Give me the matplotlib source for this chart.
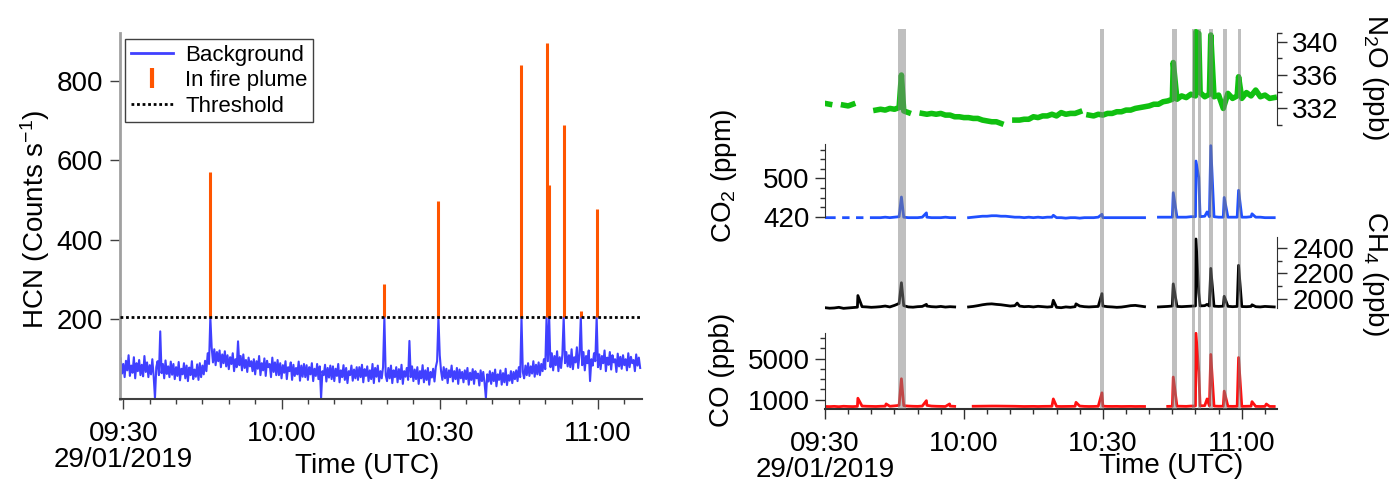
import numpy as np
import matplotlib.pyplot as plt
from matplotlib.lines import Line2D
from matplotlib.ticker import FixedLocator, MultipleLocator

plt.rcParams['font.family'] = ['Liberation Sans', 'DejaVu Sans']
plt.rcParams['mathtext.fontset'] = 'custom'
plt.rcParams['mathtext.rm'] = 'Liberation Sans'
plt.rcParams['mathtext.it'] = 'Liberation Sans:italic'
plt.rcParams['font.size'] = 20

# ---------------- data (time in minutes after 09:30 UTC) ----------------
# HCN background, 15 s steps starting at 09:29:30 (one row = 5 min)
hcn_bg = [102, 64, 88, 55, 96, 72, 110, 58, 84, 66, 105, 52, 90, 70, 98, 60, 86, 57, 108, 68,
          92, 55, 85, 62, 100, 58, 2, 80, 95, 60, 170, 65, 88, 52, 97, 63, 82, 55, 94, 61,
          88, 50, 80, 58, 93, 47, 76, 62, 90, 52, 84, 45, 79, 60, 95, 50, 74, 56, 87, 48,
          90, 55, 84, 62, 96, 70, 115, 88, 206, 130, 92, 125, 85, 118, 95, 122, 80, 112, 90, 120,
          82, 110, 75, 105, 88, 115, 70, 100, 80, 145, 85, 108, 72, 112, 78, 98, 68, 104, 82, 95,
          70, 100, 62, 95, 76, 108, 60, 90, 72, 102, 58, 96, 80, 88, 55, 104, 68, 92, 60, 98,
          60, 90, 52, 85, 66, 95, 50, 80, 70, 92, 48, 86, 58, 78, 62, 94, 46, 84, 56, 88,
          55, 85, 48, 80, 62, 90, 45, 76, 58, 88, 50, 82, 2, 70, 60, 86, 44, 78, 54, 84,
          50, 82, 45, 76, 58, 88, 42, 72, 55, 85, 48, 78, 40, 70, 60, 84, 46, 74, 52, 80,
          48, 80, 55, 86, 42, 75, 58, 82, 45, 72, 50, 88, 40, 78, 56, 84, 44, 70, 52, 80,
          206, 60, 45, 78, 52, 84, 40, 72, 55, 80, 42, 75, 50, 86, 38, 70, 56, 78, 48, 146,
          55, 82, 45, 74, 50, 80, 38, 70, 52, 85, 42, 72, 48, 78, 36, 68, 54, 76, 44, 80,
          95, 206, 110, 70, 48, 80, 52, 76, 40, 72, 55, 84, 44, 70, 50, 78, 38, 74, 52, 68,
          42, 72, 50, 78, 36, 66, 48, 75, 38, 70, 52, 64, 34, 72, 45, 68, 40, 2, 62, 44,
          70, 38, 66, 45, 74, 32, 62, 48, 72, 36, 65, 42, 76, 35, 60, 46, 70, 40, 68, 50,
          72, 45, 80, 55, 206, 68, 52, 84, 60, 90, 58, 82, 64, 95, 56, 86, 62, 92, 60, 88,
          70, 100, 75, 206, 95, 206, 80, 115, 72, 108, 85, 120, 70, 105, 78, 112, 206, 90, 118, 82,
          110, 80, 125, 75, 105, 92, 130, 78, 112, 206, 85, 118, 72, 108, 90, 122, 45, 100, 84, 115,
          95, 206, 80, 112, 75, 108, 90, 122, 70, 104, 86, 118, 74, 110, 92, 100, 68, 114, 82, 106,
          76, 110, 85, 100, 72, 115, 80, 106, 90, 98, 70, 112, 84, 104, 78]
hcn_t0 = -0.5
hcn_dt = 0.25

plume_t = [16.5, 49.5, 59.75, 75.5, 80.25, 80.75, 83.5, 86.75, 89.75]
plume_peak = [571, 290, 497, 840, 894, 537, 688, 220, 478]
threshold = 206

# right panel: 1-min values from 09:30 plus spikes
nan = np.nan
n2o = [332.6, 332.5, nan, nan, 332.4, 332.3, 332.5, nan, nan, nan,
       nan, 331.8, 331.9, 331.8, 332.0, 331.9, 332.1, 331.7, 331.5, nan,
       nan, 331.4, 331.3, 331.4, 331.3, 331.4, 331.2, 331.2, 331.0, 331.0,
       330.9, 330.9, 330.8, 330.8, 330.6, 330.5, 330.4, 330.4, 330.2, nan,
       nan, 330.6, 330.6, 330.7, 330.7, 331.0, 330.9, 331.1, 331.1, 331.3,
       331.1, 331.5, 331.3, 331.4, 331.4, 331.6, nan, 331.2, 331.1, 331.3,
       331.2, 331.4, 331.4, 331.6, 331.6, 331.8, 331.8, 332.0, 332.1, 332.2,
       332.3, 332.5, 332.5, 332.8, 332.9, 333.1, 333.1, 333.5, 333.3, 333.7,
       333.5, 333.9, 333.4, 333.7, 333.4, 333.6, 332.0, 333.8, 333.2, 333.5,
       333.2, 333.9, 333.5, 334.2, 333.4, 333.6, 333.2, 333.3]
n2o_spk_t = [16.5, 75.2, 80.1, 80.7, 83.3, 89.3]
n2o_spk_v = [336.0, 337.5, 341.2, 341.0, 340.8, 335.8]

co2 = [418, 418, 418, nan, 418, 418, nan, 418, 418, nan,
       418, 418, 418, 419, 418, 419, 420, 419, 418, 418,
       418, 419, 419, 418, 418, 418, 419, 418, 418, nan,
       nan, 418, 419, 420, 421, 421, 422, 422, 421, 421,
       420, 419, 419, 418, 419, 418, 419, 418, 419, 419,
       418, 418, 417, 418, 418, 417, 418, 418, 418, 419,
       418, 418, 418, 418, 418, 418, 418, 418, 418, 418,
       nan, nan, 419, 419, 419, 419, 419, 419, 419, 420,
       420, 420, 421, 420, 420, 419, 419, 419, 419, 419,
       419, 419, 420, 419, 419, 418, 418, 418]
co2_spk_t = [16.5, 21.9, 49.3, 59.8, 75.2, 80.1, 80.7, 82.5, 83.3, 86.2, 89.3, 92.2]
co2_spk_v = [461, 428, 423, 425, 470, 536, 502, 430, 568, 460, 475, 426]

ch4 = [1932, 1928, 1930, 1935, 1927, 1930, 1933, 1936, 1940, 1938,
       1935, 1937, 1940, 1945, 1938, 1950, 1965, 1948, 1938, 1936,
       1940, 1942, 1945, 1940, 1938, 1942, 1937, 1940, 1938, nan,
       nan, 1938, 1942, 1948, 1955, 1960, 1962, 1958, 1955, 1950,
       1945, 1948, 1945, 1940, 1942, 1938, 1943, 1940, 1937, 1940,
       1935, 1932, 1938, 1935, 1940, 1945, 1940, 1938, 1940, 1942,
       1945, 1940, 1938, 1935, 1937, 1942, 1948, 1950, 1945, 1940,
       nan, nan, 1938, 1940, 1942, 1945, 1942, 1940, 1942, 1944,
       1946, 1946, 1948, 1945, 1944, 1942, 1944, 1943, 1940, 1942,
       1941, 1940, 1942, 1940, 1938, 1942, 1940, 1938]
ch4_spk_t = [7.1, 16.5, 21.9, 41.5, 49.3, 54.2, 59.8, 75.2, 80.1, 80.7, 82.5, 83.3, 86.2, 89.3, 92.2]
ch4_spk_v = [2027, 2127, 1958, 1968, 1990, 1962, 2042, 2118, 2469, 2048, 1958, 2239, 2021, 2263, 1955]

co = [340, 330, 350, 320, 360, 340, 330, 350, 380, 360,
      350, 340, 360, 370, 360, 400, 450, 420, 380, 360,
      350, 380, 450, 380, 360, 350, 340, 380, 350, nan,
      nan, nan, 360, 365, 370, 375, 380, 380, 375, 370,
      365, 360, 350, 340, 345, 350, 340, 350, 355, 360,
      350, 340, 345, 350, 360, 380, 350, 340, 345, 360,
      370, 350, 345, 350, 340, 345, 350, 340, 345, 340,
      nan, nan, nan, nan, 350, 360, 370, 360, 350, 380,
      390, 400, 420, 400, 380, 360, 370, 360, 350, 360,
      350, 360, 370, 350, 340, 350, 345, 340]
co_spk_t = [7.1, 13.2, 16.5, 21.9, 26.9, 49.3, 54.2, 59.8, 75.2, 80.1, 80.7, 82.5, 83.3, 86.2, 89.3, 92.2, 95.3]
co_spk_v = [1142, 590, 3040, 908, 587, 1074, 743, 1668, 3206, 7470, 3700, 1074, 5405, 1833, 5105, 810, 580]

# shaded plume periods
band_start = [15.8, 59.3, 75.0, 79.3, 80.6, 83.0, 86.0, 89.2]
band_end = [17.5, 60.3, 76.0, 80.0, 81.2, 83.7, 86.7, 89.9]

tick_pos = [0, 30, 60, 90]
tick_lab = ['09:30\n29/01/2019', '10:00', '10:30', '11:00']

# ---------------- figure ----------------
W, H = 1395, 488
fig = plt.figure(figsize=(W / 100, H / 100), dpi=100)


def box(x0, y0, x1, y1):
    return [x0 / W, 1 - y1 / H, (x1 - x0) / W, (y1 - y0) / H]


def merged(base, spk_t, spk_v):
    t = np.concatenate([np.arange(len(base)), spk_t])
    v = np.concatenate([np.array(base, float), spk_v])
    o = np.argsort(t, kind='stable')
    return t[o], v[o]


blue = '#4040ff'
orange = '#ff5500'

# ---- left panel ----
ax = fig.add_axes(box(120, 33, 642, 399))
t_bg = hcn_t0 + hcn_dt * np.arange(len(hcn_bg))
ax.plot(t_bg, hcn_bg, color=blue, lw=1.5, zorder=2)
ax.vlines(plume_t, threshold, plume_peak, color=orange, lw=2.2, zorder=3)
ax.axhline(threshold, color='black', ls=(0, (1, 1)), lw=2, zorder=4)
ax.set_xlim(-0.63, 98.35)
ax.set_ylim(0, 920)
ax.set_yticks([200, 400, 600, 800])
ax.set_xticks(tick_pos)
ax.set_xticklabels(tick_lab, linespacing=1.0)
ax.xaxis.set_minor_locator(MultipleLocator(5))
for s in ['top', 'right']:
    ax.spines[s].set_visible(False)
ax.spines['left'].set_color('#a0a0a0')
ax.spines['left'].set_linewidth(2)
ax.spines['bottom'].set_color('#404040')
ax.spines['bottom'].set_linewidth(1.5)
ax.tick_params(axis='both', which='major', length=7, width=1, color='#404040', labelsize=20)
ax.tick_params(axis='x', which='minor', length=3.5, width=1, color='#404040')
ax.tick_params(axis='x', which='major', pad=9)
ax.tick_params(axis='y', which='major', pad=5)

handles = [Line2D([], [], color=blue, lw=2),
           Line2D([], [], color=orange, marker='|', ls='None', markersize=14, markeredgewidth=3),
           Line2D([], [], color='black', ls=(0, (1, 1)), lw=2)]
leg = ax.legend(handles, ['Background', 'In fire plume', 'Threshold'], loc='upper left',
                bbox_to_anchor=(0.0096, 0.983), borderaxespad=0, fontsize=16,
                fancybox=False, framealpha=1, edgecolor='#404040', handlelength=1.9,
                handletextpad=0.55, labelspacing=0.2, borderpad=0.25)
leg.get_frame().set_linewidth(1)

fig.text(35 / W, 1 - 219 / H, 'HCN (Counts s$^{\\mathregular{-1}}$)', rotation=90,
         ha='center', va='center', fontsize=20)
fig.text(367 / W, 1 - 466 / H, 'Time (UTC)', ha='center', va='center', fontsize=20)

# ---- right panel ----
xr = (0, 97.6)


def sub_axes(ylo, yhi, vref, yref, k):
    # axes placed so that value vref sits at pixel row yref with k px per unit
    top = yref - (yhi - vref) * k
    bot = yref + (vref - ylo) * k
    a = fig.add_axes(box(825, top, 1277, bot))
    a.set_xlim(*xr)
    a.set_ylim(ylo, yhi)
    a.patch.set_alpha(0)
    for s in a.spines.values():
        s.set_visible(False)
    a.set_xticks([])
    return a


def style_y(a, side, bounds, major, minor):
    a.spines[side].set_visible(True)
    a.spines[side].set_bounds(*bounds)
    a.spines[side].set_color('#303030')
    a.yaxis.set_ticks_position(side)
    a.yaxis.set_major_locator(FixedLocator(major))
    a.yaxis.set_minor_locator(FixedLocator(minor))
    a.tick_params(axis='y', which='major', length=7, width=1, color='#303030', labelsize=20, pad=4)
    a.tick_params(axis='y', which='minor', length=3.5, width=1, color='#303030')


a_n2o = sub_axes(329.5, 341.5, 340, 41.7, 8.34)
t, v = merged(n2o, n2o_spk_t, n2o_spk_v)
a_n2o.plot(t, v, color='#10c010', lw=4)
style_y(a_n2o, 'right', (330, 341), [332, 336, 340], [330, 334, 338, 341])

a_co2 = sub_axes(410, 575, 420, 216.7, 0.48)
t, v = merged(co2, co2_spk_t, co2_spk_v)
a_co2.plot(t, v, color='#2050ff', lw=2)
style_y(a_co2, 'left', (420, 571), [420, 500], [440, 460, 480, 520, 540, 560])

a_ch4 = sub_axes(1900, 2490, 2000, 299, 0.128)
t, v = merged(ch4, ch4_spk_t, ch4_spk_v)
a_ch4.plot(t, v, color='black', lw=2)
style_y(a_ch4, 'right', (1930, 2481), [2000, 2200, 2400], [2100, 2300])

a_co = sub_axes(94, 7600, 1000, 399.7, 0.01027)
t, v = merged(co, co_spk_t, co_spk_v)
a_co.plot(t, v, color='#ff1010', lw=2)
style_y(a_co, 'left', (94, 7500), [1000, 5000], [2000, 3000, 4000, 6000, 7000])
a_co.spines['bottom'].set_visible(True)
a_co.spines['bottom'].set_color('#303030')
a_co.spines['bottom'].set_linewidth(1.5)
a_co.set_xticks(tick_pos)
a_co.set_xticklabels(tick_lab, linespacing=1.0)
a_co.xaxis.set_minor_locator(MultipleLocator(5))
a_co.tick_params(axis='x', which='major', length=7, width=1, color='#303030', labelsize=20, pad=9)
a_co.tick_params(axis='x', which='minor', length=3.5, width=1, color='#303030')

# grey shading for plume periods, drawn over the traces
a_band = fig.add_axes(box(825, 29, 1277, 409))
a_band.set_xlim(*xr)
a_band.axis('off')
a_band.set_zorder(10)
for s0, s1 in zip(band_start, band_end):
    a_band.axvspan(s0, s1, color='#808080', alpha=0.5, lw=0)

fig.text(724 / W, 1 - 176 / H, 'CO$_2$ (ppm)', rotation=90, ha='center', va='center', fontsize=20)
fig.text(722 / W, 1 - 370 / H, 'CO (ppb)', rotation=90, ha='center', va='center', fontsize=20)
fig.text(1375 / W, 1 - 77 / H, 'N$_2$O (ppb)', rotation=270, ha='center', va='center', fontsize=20)
fig.text(1375 / W, 1 - 273 / H, 'CH$_4$ (ppb)', rotation=270, ha='center', va='center', fontsize=20)
fig.text(1171 / W, 1 - 466 / H, 'Time (UTC)', ha='center', va='center', fontsize=20)

fig.savefig('out.png', dpi=100)
